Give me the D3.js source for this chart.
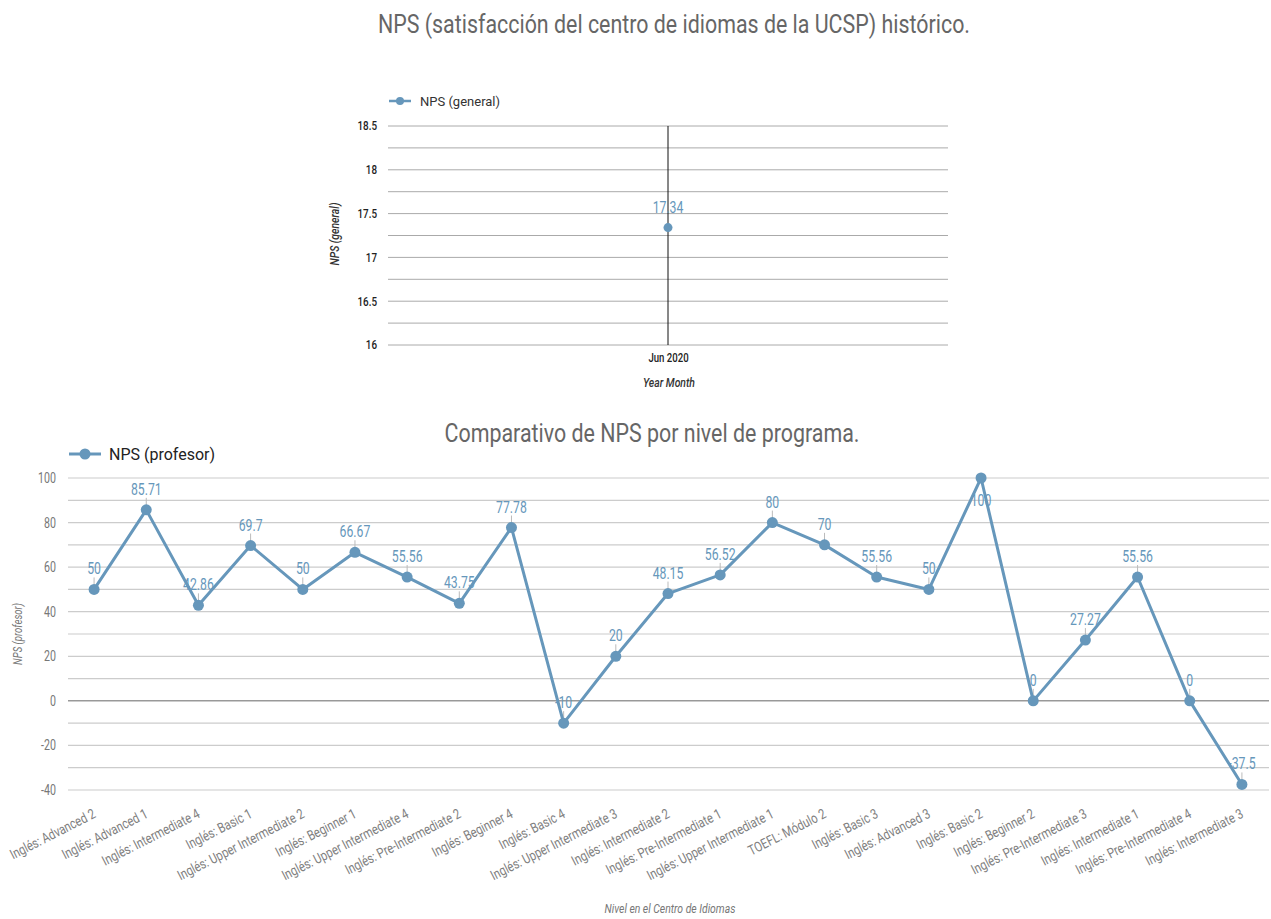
<!doctype html>
<html>
  <head>
    <meta charset="utf-8">
    <title>NPS</title>
    <script src="https://cdn.jsdelivr.net/npm/d3@7"></script>
    <style>
      body { margin: 0; background: #fff; }
    </style>
  </head>
  <body>
    <script>
      // datos del primer gráfico
      const monthLabels = ['Jun 2020'];
      const npsGeneral = [17.34];
      const generalTicks = [16, 16.5, 17, 17.5, 18, 18.5];

      // datos del segundo gráfico
      const niveles = [
        'Inglés: Advanced 2', 'Inglés: Advanced 1', 'Inglés: Intermediate 4', 'Inglés: Basic 1',
        'Inglés: Upper Intermediate 2', 'Inglés: Beginner 1', 'Inglés: Upper Intermediate 4',
        'Inglés: Pre-Intermediate 2', 'Inglés: Beginner 4', 'Inglés: Basic 4',
        'Inglés: Upper Intermediate 3', 'Inglés: Intermediate 2', 'Inglés: Pre-Intermediate 1',
        'Inglés: Upper Intermediate 1', 'TOEFL: Módulo 2', 'Inglés: Basic 3', 'Inglés: Advanced 3',
        'Inglés: Basic 2', 'Inglés: Beginner 2', 'Inglés: Pre-Intermediate 3',
        'Inglés: Intermediate 1', 'Inglés: Pre-Intermediate 4', 'Inglés: Intermediate 3'
      ];
      const npsProfesor = [50, 85.71, 42.86, 69.7, 50, 66.67, 55.56, 43.75, 77.78, -10, 20,
        48.15, 56.52, 80, 70, 55.56, 50, 100, 0, 27.27, 55.56, 0, -37.5];
      const profesorTicks = [-40, -20, 0, 20, 40, 60, 80, 100];

      const blue = '#6697bb';
      const font = 'Roboto, sans-serif';

      // estrecha el texto (imitando una fuente condensada)
      function condense(sel, k) {
        sel.each(function() {
          const w = this.getComputedTextLength();
          d3.select(this)
            .attr('textLength', w * k)
            .attr('lengthAdjust', 'spacingAndGlyphs');
        });
      }

      const svg = d3.select('body').append('svg')
          .attr('width', 1271)
          .attr('height', 919);

      // ---------- gráfico 1 ----------
      svg.append('text')
          .attr('x', 674).attr('y', 33)
          .attr('text-anchor', 'middle')
          .attr('font-family', font)
          .attr('font-size', 25)
          .attr('fill', '#666')
          .attr('textLength', 592).attr('lengthAdjust', 'spacingAndGlyphs')
          .text('NPS (satisfacción del centro de idiomas de la UCSP) histórico.');

      const x1 = d3.scalePoint().domain(monthLabels).range([388, 948]).padding(0.5);
      const y1 = d3.scaleLinear().domain([16, 18.5]).range([345, 126]);

      const g1 = svg.append('g');
      g1.selectAll('line.grid')
        .data(d3.range(16, 18.51, 0.25))
        .join('line')
          .attr('x1', 388).attr('x2', 948)
          .attr('y1', d => y1(d)).attr('y2', d => y1(d))
          .attr('stroke', '#aaa').attr('stroke-width', 1);

      const yAxis1 = g1.append('g')
          .attr('transform', 'translate(388,0)')
          .call(d3.axisLeft(y1).tickValues(generalTicks).tickSize(0).tickPadding(11).tickFormat(d3.format('')));
      yAxis1.select('.domain').remove();
      yAxis1.selectAll('text').attr('font-family', font).attr('font-size', 12)
          .attr('font-weight', 500).attr('fill', '#222').call(condense, 0.82);

      g1.selectAll('line.vline')
        .data(monthLabels)
        .join('line')
          .attr('x1', d => x1(d)).attr('x2', d => x1(d))
          .attr('y1', y1(18.5)).attr('y2', y1(16))
          .attr('stroke', '#111').attr('stroke-width', 1);

      const xAxis1 = g1.append('g')
          .attr('transform', `translate(0,${y1(16)})`)
          .call(d3.axisBottom(x1).tickSize(0).tickPadding(8));
      xAxis1.select('.domain').remove();
      xAxis1.selectAll('text').attr('font-family', font).attr('font-size', 12)
          .attr('font-weight', 500).attr('fill', '#222').call(condense, 0.8);

      g1.append('text')
          .attr('x', 669).attr('y', 387)
          .attr('text-anchor', 'middle')
          .attr('font-family', font).attr('font-style', 'italic').attr('font-weight', 500)
          .attr('font-size', 13).attr('fill', '#333')
          .text('Year Month').call(condense, 0.8);

      g1.append('text')
          .attr('transform', 'translate(339,234) rotate(-90)')
          .attr('text-anchor', 'middle')
          .attr('font-family', font).attr('font-style', 'italic').attr('font-weight', 500)
          .attr('font-size', 13).attr('fill', '#333')
          .text('NPS (general)').call(condense, 0.8);

      g1.selectAll('circle.pt')
        .data(npsGeneral)
        .join('circle')
          .attr('cx', (d, i) => x1(monthLabels[i]))
          .attr('cy', d => y1(d))
          .attr('r', 4.5)
          .attr('fill', blue);
      g1.selectAll('text.lbl')
        .data(npsGeneral)
        .join('text')
          .attr('x', (d, i) => x1(monthLabels[i]))
          .attr('y', d => y1(d) - 15)
          .attr('text-anchor', 'middle')
          .attr('font-family', font).attr('font-size', 17)
          .attr('fill', blue)
          .text(d => d).call(condense, 0.72);

      // leyenda 1
      g1.append('line').attr('x1', 389).attr('x2', 411).attr('y1', 101).attr('y2', 101)
          .attr('stroke', blue).attr('stroke-width', 2.5);
      g1.append('circle').attr('cx', 400).attr('cy', 101).attr('r', 4).attr('fill', blue);
      g1.append('text').attr('x', 420).attr('y', 105.5)
          .attr('font-family', font).attr('font-size', 13).attr('fill', '#333')
          .text('NPS (general)');

      // ---------- gráfico 2 ----------
      svg.append('text')
          .attr('x', 652).attr('y', 442)
          .attr('text-anchor', 'middle')
          .attr('font-family', font)
          .attr('font-size', 25)
          .attr('fill', '#666')
          .attr('textLength', 415).attr('lengthAdjust', 'spacingAndGlyphs')
          .text('Comparativo de NPS por nivel de programa.');

      const x2 = d3.scalePoint().domain(niveles).range([68, 1268]).padding(0.5);
      const y2 = d3.scaleLinear().domain([-40, 100]).range([790, 478]);

      const g2 = svg.append('g');
      g2.selectAll('line.grid')
        .data(d3.range(-40, 101, 10))
        .join('line')
          .attr('x1', 68).attr('x2', 1269)
          .attr('y1', d => y2(d)).attr('y2', d => y2(d))
          .attr('stroke', d => d === 0 ? '#999' : '#ccc')
          .attr('stroke-width', d => d === 0 ? 1.5 : 1.2);

      const yAxis2 = g2.append('g')
          .attr('transform', 'translate(68,0)')
          .call(d3.axisLeft(y2).tickValues(profesorTicks).tickSize(0).tickPadding(12)
            .tickFormat(d => String(d)));
      yAxis2.select('.domain').remove();
      yAxis2.selectAll('text').attr('font-family', font).attr('font-size', 14)
          .attr('fill', '#777').call(condense, 0.76);

      const xAxis2 = g2.append('g')
          .attr('transform', `translate(0,${y2(-40)})`)
          .call(d3.axisBottom(x2).tickSize(0).tickPadding(0));
      xAxis2.select('.domain').remove();
      xAxis2.selectAll('text')
          .attr('font-family', font).attr('font-size', 14).attr('fill', '#808080')
          .attr('text-anchor', 'end')
          .attr('y', 0).attr('dy', 0)
          .attr('transform', 'translate(2,27) rotate(-27)')
          .call(condense, 0.8);

      g2.append('text')
          .attr('x', 670).attr('y', 913)
          .attr('text-anchor', 'middle')
          .attr('font-family', font).attr('font-style', 'italic')
          .attr('font-size', 13).attr('fill', '#777')
          .text('Nivel en el Centro de Idiomas').call(condense, 0.8);

      g2.append('text')
          .attr('transform', 'translate(22,634) rotate(-90)')
          .attr('text-anchor', 'middle')
          .attr('font-family', font).attr('font-style', 'italic')
          .attr('font-size', 12).attr('fill', '#777')
          .text('NPS (profesor)').call(condense, 0.8);

      const pts = niveles.map((n, i) => ({ n, v: npsProfesor[i] }));

      // etiquetas (debajo de la línea)
      const lbl = g2.selectAll('g.lbl')
        .data(pts)
        .join('g')
          .attr('transform', d => `translate(${x2(d.n)},${y2(d.v)})`);
      lbl.append('line')
          .attr('y1', d => d.v === 100 ? 0 : -4)
          .attr('y2', d => d.v === 100 ? 0 : -12)
          .attr('stroke', '#bbb').attr('stroke-width', 1);
      lbl.append('text')
          .attr('y', d => d.v === 100 ? 28 : -15)
          .attr('text-anchor', 'middle')
          .attr('font-family', font).attr('font-size', 17)
          .attr('fill', blue)
          .text(d => d.v)
          .call(condense, 0.72);

      g2.append('path')
          .datum(pts)
          .attr('fill', 'none')
          .attr('stroke', blue)
          .attr('stroke-width', 3)
          .attr('stroke-linejoin', 'round')
          .attr('d', d3.line().x(d => x2(d.n)).y(d => y2(d.v)));

      g2.selectAll('circle.pt')
        .data(pts)
        .join('circle')
          .attr('cx', d => x2(d.n))
          .attr('cy', d => y2(d.v))
          .attr('r', 5.5)
          .attr('fill', blue);

      // leyenda 2
      g2.append('line').attr('x1', 69).attr('x2', 101).attr('y1', 454).attr('y2', 454)
          .attr('stroke', blue).attr('stroke-width', 3);
      g2.append('circle').attr('cx', 85).attr('cy', 454).attr('r', 5.5).attr('fill', blue);
      g2.append('text').attr('x', 109).attr('y', 459.5)
          .attr('font-family', font).attr('font-size', 16).attr('fill', '#222')
          .text('NPS (profesor)');
    </script>
  </body>
</html>
